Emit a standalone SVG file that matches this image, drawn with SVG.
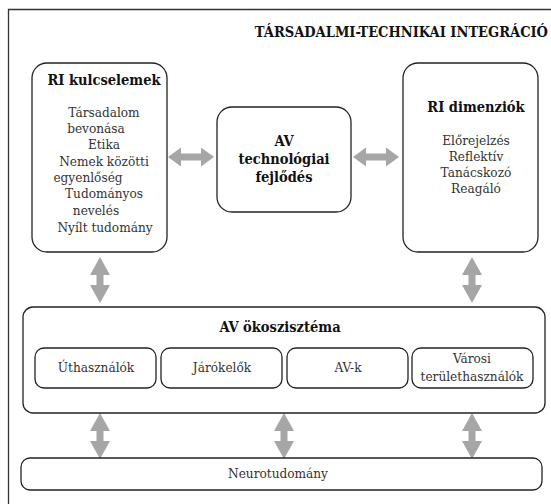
<svg xmlns="http://www.w3.org/2000/svg" width="551" height="504" viewBox="0 0 551 504">
<style>
text{font-family:'DejaVu Serif Condensed','DejaVu Serif',serif;font-stretch:condensed}
.t{font-size:13.5px;fill:#333}
.b{font-size:14.5px;font-weight:bold;fill:#111}
.c{text-anchor:middle}
.box{fill:#fff;stroke:#222;stroke-width:1.3}
.arr{fill:#a6a6a7}
</style>
<defs>
<path id="ha" d="M0,0 L13,-9.5 L13,-3.5 L33,-3.5 L33,-9.5 L46,0 L33,9.5 L33,3.5 L13,3.5 L13,9.5 Z"/>
<path id="va" d="M0,0 L10,18 L3.5,18 L3.5,28 L10,28 L0,46 L-10,28 L-3.5,28 L-3.5,18 L-10,18 Z"/>
</defs>
<rect x="0" y="0" width="551" height="504" fill="#fff"/>
<g id="frame">
<path d="M8.5,504 L8.5,9.5 L551,9.5" fill="none" stroke="#333" stroke-width="1.3"/>
<text class="b" x="548" y="37" text-anchor="end" font-size="13.6">TÁRSADALMI-TECHNIKAI INTEGRÁCIÓ</text>
</g>
<g id="connectors" class="arr">
<use href="#ha" x="168" y="157"/>
<use href="#ha" x="353" y="157"/>
<use href="#va" x="100" y="257"/>
<use href="#va" x="472" y="257"/>
<use href="#va" x="100" y="413"/>
<use href="#va" x="284" y="413"/>
<use href="#va" x="472" y="413"/>
</g>
<g id="ri-kulcselemek">
<rect class="box" x="32" y="63" width="135" height="189" rx="15"/>
<text class="b c" x="104" y="85" font-size="14">RI kulcselemek</text>
<text class="t c" x="104" y="117">Társadalom</text>
<text class="t c" x="96" y="133">bevonása</text>
<text class="t c" x="104" y="149">Etika</text>
<text class="t c" x="104" y="166">Nemek közötti</text>
<text class="t c" x="88" y="182">egyenlőség</text>
<text class="t c" x="104" y="198">Tudományos</text>
<text class="t c" x="96" y="215">nevelés</text>
<text class="t c" x="105" y="232">Nyílt tudomány</text>
</g>
<g id="av-tech">
<rect class="box" x="217" y="107" width="134" height="105" rx="15"/>
<text class="b c" x="284" y="146">AV</text>
<text class="b c" x="284" y="164">technológiai</text>
<text class="b c" x="284" y="182">fejlődés</text>
</g>
<g id="ri-dimenziok">
<rect class="box" x="403" y="63" width="135" height="189" rx="15"/>
<text class="b c" x="476" y="112" font-size="16.5">RI dimenziók</text>
<text class="t c" x="476" y="145">Előrejelzés</text>
<text class="t c" x="476" y="161">Reflektív</text>
<text class="t c" x="476" y="177">Tanácskozó</text>
<text class="t c" x="476" y="193">Reagáló</text>
</g>
<g id="av-okoszisztema">
<rect class="box" x="23" y="307" width="522" height="106" rx="10"/>
<text class="b c" x="280" y="332" font-size="15">AV ökoszisztéma</text>
</g>
<g id="uthasznalok">
<rect class="box" x="35" y="348" width="121" height="40" rx="9"/>
<text class="t c" x="96" y="372">Úthasználók</text>
</g>
<g id="jarokelok">
<rect class="box" x="161" y="348" width="121" height="40" rx="9"/>
<text class="t c" x="222" y="372">Járókelők</text>
</g>
<g id="av-k">
<rect class="box" x="287" y="348" width="121" height="40" rx="9"/>
<text class="t c" x="348" y="372">AV-k</text>
</g>
<g id="varosi">
<rect class="box" x="412" y="348" width="121" height="40" rx="9"/>
<text class="t c" x="472" y="363">Városi</text>
<text class="t c" x="472" y="381" font-size="12.8">területhasználók</text>
</g>
<g id="neurotudomany">
<rect class="box" x="21" y="458" width="521" height="32" rx="9"/>
<text class="t c" x="278" y="478">Neurotudomány</text>
</g>
</svg>
